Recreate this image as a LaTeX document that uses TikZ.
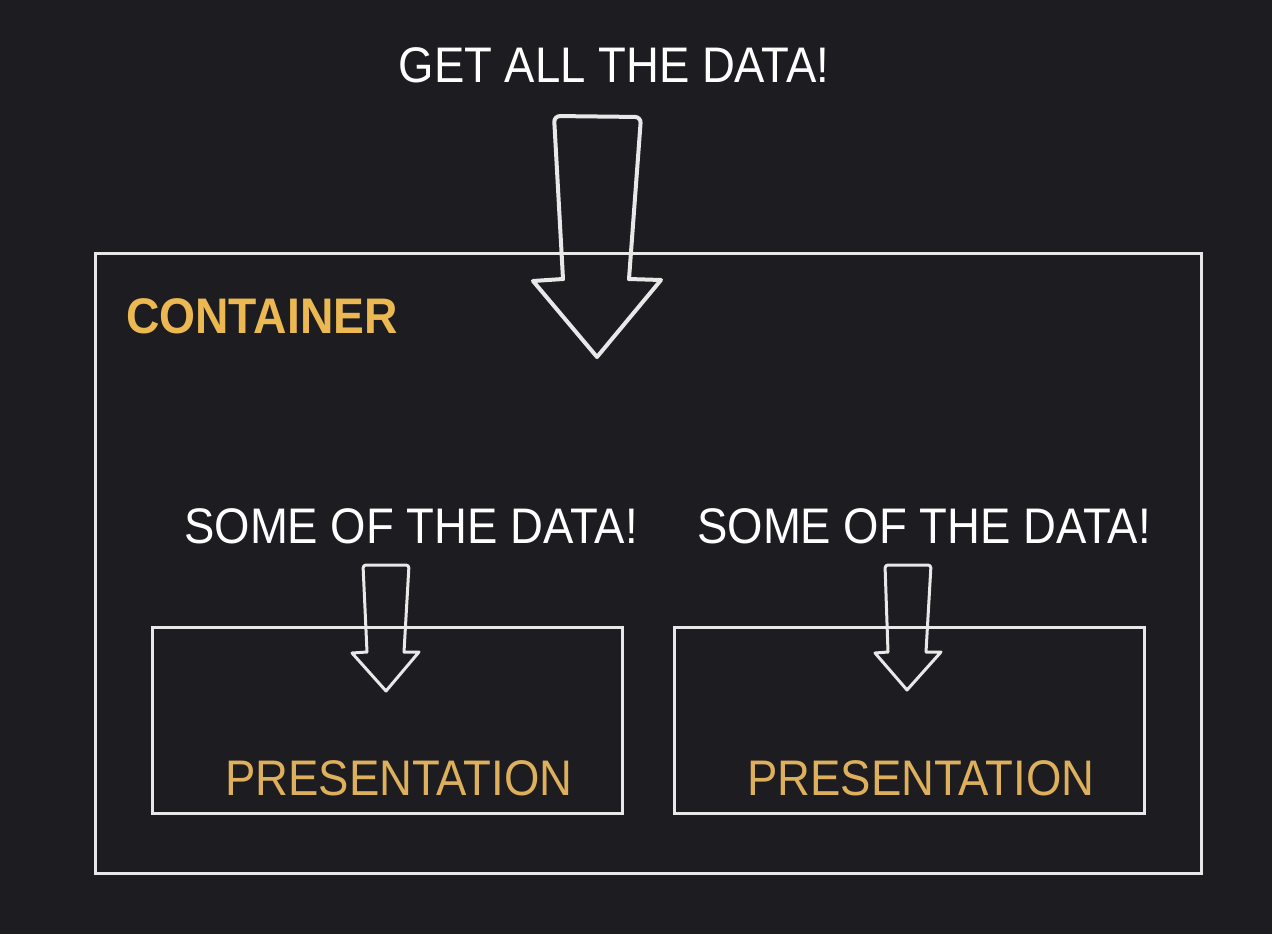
\documentclass[tikz,border=0pt]{standalone}
\usepackage{fontspec}
\setmainfont{Liberation Sans}[FakeStretch=0.91]
\newfontfamily\boldlabel{Liberation Sans}[FakeStretch=0.925,UprightFont=*-Bold]
\definecolor{bg}{RGB}{28,28,33}
\definecolor{linec}{RGB}{232,232,232}
\definecolor{gold}{RGB}{236,184,82}
\definecolor{goldlight}{RGB}{222,176,92}
\begin{document}
\begin{tikzpicture}[x=1pt,y=-1pt,
  boxline/.style={draw=linec, line width=3pt, inner sep=0pt, anchor=north west},
  lbl/.style={text=white, font=\fontsize{50}{50}\selectfont, inner sep=0pt, anchor=base},
  ptext/.style={text=goldlight, font=\fontsize{50}{50}\selectfont, inner sep=0pt, anchor=base},
  arrowline/.style={draw=linec, line width=4pt, line join=round, line cap=round}]
\fill[bg] (0,0) rectangle (1272,934);
\useasboundingbox (0,0) rectangle (1272,934);
% container
\node[boxline, minimum width=1106pt, minimum height=620pt] (cont) at (94,252) {};
\node[text=gold, font=\boldlabel\fontsize{50}{50}\selectfont, inner sep=0pt, anchor=base west] (clabel) at (126,333) {CONTAINER};
% presentation boxes
\node[boxline, minimum width=470pt, minimum height=186pt] (p1) at (151,626) {};
\node[boxline, minimum width=470pt, minimum height=186pt] (p2) at (673,626) {};
\node[ptext] (p1t) at (399,795) {PRESENTATION};
\node[ptext] (p2t) at (921,795) {PRESENTATION};
% labels
\node[lbl] (top) at (614,83) {GET ALL THE DATA!};
\node[lbl] (s1) at (411,543) {SOME OF THE DATA!};
\node[lbl] (s2) at (924,543) {SOME OF THE DATA!};
% big arrow
\draw[arrowline, rounded corners=6pt] (563,279) -- (554,116) -- (641,117) -- (629,279);
\draw[arrowline] (563,279) -- (533,281) -- (597,357) -- (661,280) -- (629,279);
% small arrows
\draw[arrowline, line width=3pt, rounded corners=3pt] (367,652) -- (363,565) -- (409,565) -- (404,652);
\draw[arrowline, line width=3pt] (367,652) -- (352,653) -- (386,691) -- (419,652) -- (404,652);
\draw[arrowline, line width=3pt, rounded corners=3pt] (888,652) -- (885,565) -- (931,565) -- (926,652);
\draw[arrowline, line width=3pt] (888,652) -- (875,653) -- (907,690) -- (941,652) -- (926,652);
\end{tikzpicture}
\end{document}
